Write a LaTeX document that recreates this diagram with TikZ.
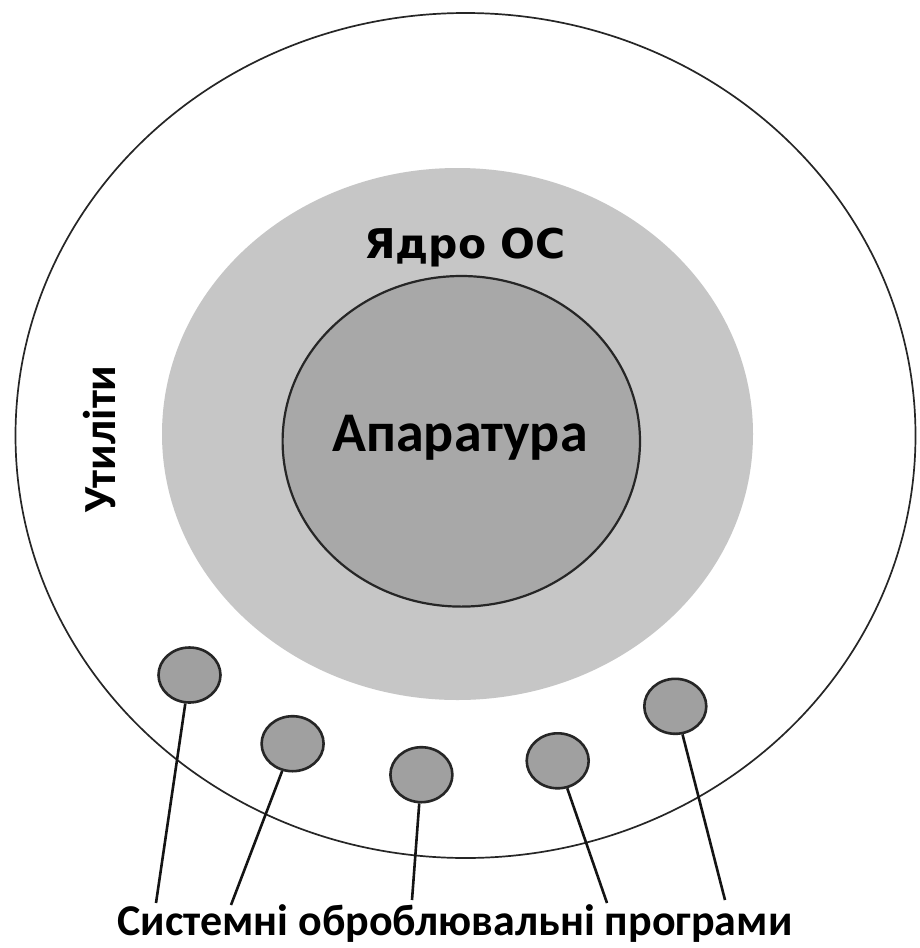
\documentclass[tikz,border=0pt]{standalone}
\usepackage{fontspec}
\setmainfont{Carlito}
\newfontfamily\djv{DejaVu Sans}
\usetikzlibrary{shapes.geometric}
\definecolor{midgray}{HTML}{C6C6C6}
\definecolor{hwgray}{HTML}{A8A8A8}
\definecolor{progray}{HTML}{A0A0A0}
\definecolor{edge}{HTML}{262626}
\tikzset{
  prog/.style={ellipse, draw=edge, fill=progray, line width=2.6pt, minimum width=62pt, minimum height=55pt, inner sep=0pt},
  lead/.style={line width=2.6pt, draw=black!92},
  lbl/.style={inner sep=0pt, font=\bfseries, text=black}
}
\begin{document}
\begin{tikzpicture}[x=1pt,y=-1pt]
\useasboundingbox (0,0) rectangle (919,948);
\fill[white] (0,0) rectangle (919,948);
% shells
\draw[line width=1.7pt, draw=edge] (465.5,435.5) ellipse [x radius=450pt, y radius=422.5pt];
\fill[midgray] (457.5,434) ellipse [x radius=295.5pt, y radius=266pt];
\draw[fill=hwgray, draw=edge, line width=2.2pt] (461.3,441.3) ellipse [x radius=178.7pt, y radius=165.3pt];
% labels
\node[lbl, anchor=base, font=\fontsize{56}{60}\selectfont\bfseries] (hw) at (460,451.7) {Апаратура};
\node[lbl, anchor=base, font=\djv\fontsize{41}{45}\selectfont\bfseries] (kern) at (465,258.3) {Ядро ОС};
\node[lbl, anchor=base, rotate=90, font=\fontsize{46}{50}\selectfont\bfseries] (util) at (115,439) {Утиліти};
\node[lbl, anchor=base, font=\fontsize{44}{48}\selectfont\bfseries] (sys) at (455,935) {Системні оброблювальні програми};
% small programs
\node[prog] (p1) at (189.5,675) {};
\node[prog] (p2) at (292.6,743.7) {};
\node[prog] (p3) at (421.4,774.7) {};
\node[prog] (p4) at (557.7,760.8) {};
\node[prog] (p5) at (675.3,706.3) {};
\coordinate (e1) at (156,903);
\coordinate (e2) at (231,905);
\coordinate (e3) at (412,900);
\coordinate (e4) at (607,903);
\coordinate (e5) at (725,900);
\draw[lead] (p1) -- (e1);
\draw[lead] (p2) -- (e2);
\draw[lead] (p3) -- (e3);
\draw[lead] (p4) -- (e4);
\draw[lead] (p5) -- (e5);
\end{tikzpicture}
\end{document}
